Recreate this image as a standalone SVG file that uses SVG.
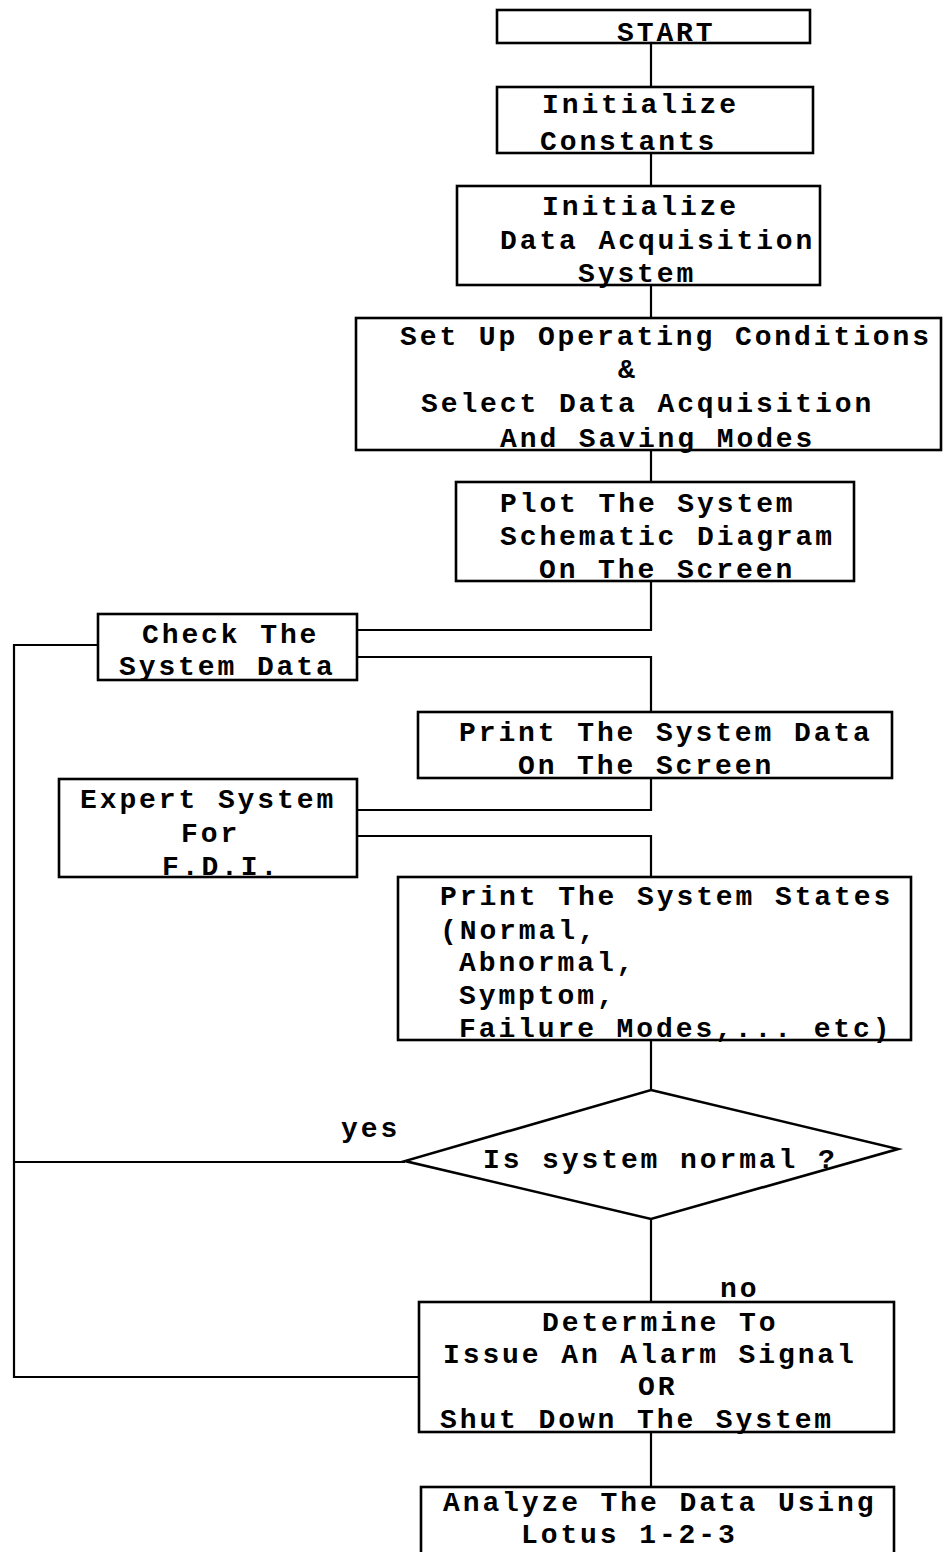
<svg xmlns="http://www.w3.org/2000/svg" width="945" height="1552" viewBox="0 0 945 1552">
  <style>
    .box { fill: #fff; stroke: #000; stroke-width: 2.6; }
    .wire { fill: none; stroke: #000; stroke-width: 2.2; }
    .t { font-family: "Liberation Mono", "DejaVu Sans Mono", monospace; font-size: 28px; font-weight: bold; letter-spacing: 2.9px; fill: #000; }
  </style>
  <rect x="0" y="0" width="945" height="1552" fill="#fff"/>

  <!-- connectors -->
  <g id="connectors">
    <path class="wire" d="M651 43 V87"/>
    <path class="wire" d="M651 153 V186"/>
    <path class="wire" d="M651 285 V318"/>
    <path class="wire" d="M651 450 V482"/>
    <path class="wire" d="M651 581 V630 H357"/>
    <path class="wire" d="M98 645 H14 V1377 H419"/>
    <path class="wire" d="M14 1162 H405"/>
    <path class="wire" d="M357 657 H651 V712"/>
    <path class="wire" d="M651 778 V810 H357"/>
    <path class="wire" d="M357 836 H651 V877"/>
    <path class="wire" d="M651 1040 V1090"/>
    <path class="wire" d="M651 1219 V1302"/>
    <path class="wire" d="M651 1432 V1487"/>
    <text class="t" x="341" y="1137">yes</text>
    <text class="t" x="720" y="1297">no</text>
  </g>

  <g id="start">
    <rect class="box" x="497" y="10" width="313" height="33"/>
    <text class="t" x="617" y="41">START</text>
  </g>

  <g id="init-constants">
    <rect class="box" x="497" y="87" width="316" height="66"/>
    <text class="t" x="542" y="113">Initialize</text>
    <text class="t" x="540" y="150">Constants</text>
  </g>

  <g id="init-das">
    <rect class="box" x="457" y="186" width="363" height="99"/>
    <text class="t" x="542" y="215">Initialize</text>
    <text class="t" x="500" y="249">Data Acquisition</text>
    <text class="t" x="578" y="282">System</text>
  </g>

  <g id="setup">
    <rect class="box" x="356" y="318" width="585" height="132"/>
    <text class="t" x="400" y="345">Set Up Operating Conditions</text>
    <text class="t" x="618" y="378">&amp;</text>
    <text class="t" x="421" y="412">Select Data Acquisition</text>
    <text class="t" x="500" y="447">And Saving Modes</text>
  </g>

  <g id="plot">
    <rect class="box" x="456" y="482" width="398" height="99"/>
    <text class="t" x="500" y="512">Plot The System</text>
    <text class="t" x="500" y="545">Schematic Diagram</text>
    <text class="t" x="539" y="578">On The Screen</text>
  </g>

  <g id="check">
    <rect class="box" x="98" y="614" width="259" height="66"/>
    <text class="t" x="142" y="643">Check The</text>
    <text class="t" x="119" y="675">System Data</text>
  </g>

  <g id="print-data">
    <rect class="box" x="418" y="712" width="474" height="66"/>
    <text class="t" x="459" y="741">Print The System Data</text>
    <text class="t" x="518" y="774">On The Screen</text>
  </g>

  <g id="expert">
    <rect class="box" x="59" y="779" width="298" height="98"/>
    <text class="t" x="80" y="808">Expert System</text>
    <text class="t" x="181" y="842">For</text>
    <text class="t" x="162" y="875">F.D.I.</text>
  </g>

  <g id="print-states">
    <rect class="box" x="398" y="877" width="513" height="163"/>
    <text class="t" x="440" y="905">Print The System States</text>
    <text class="t" x="440" y="939">(Normal,</text>
    <text class="t" x="459" y="971">Abnormal,</text>
    <text class="t" x="459" y="1004">Symptom,</text>
    <text class="t" x="459" y="1037">Failure Modes,... etc)</text>
  </g>

  <g id="decision">
    <polygon class="box" points="651,1090 898,1149 651,1219 405,1161"/>
    <text class="t" x="483" y="1168">Is system normal ?</text>
  </g>

  <g id="determine">
    <rect class="box" x="419" y="1302" width="475" height="130"/>
    <text class="t" x="542" y="1331">Determine To</text>
    <text class="t" x="443" y="1363">Issue An Alarm Signal</text>
    <text class="t" x="638" y="1395">OR</text>
    <text class="t" x="440" y="1428">Shut Down The System</text>
  </g>

  <g id="analyze">
    <rect class="box" x="421" y="1487" width="473" height="80"/>
    <text class="t" x="443" y="1511">Analyze The Data Using</text>
    <text class="t" x="521" y="1543">Lotus 1-2-3</text>
  </g>
</svg>
